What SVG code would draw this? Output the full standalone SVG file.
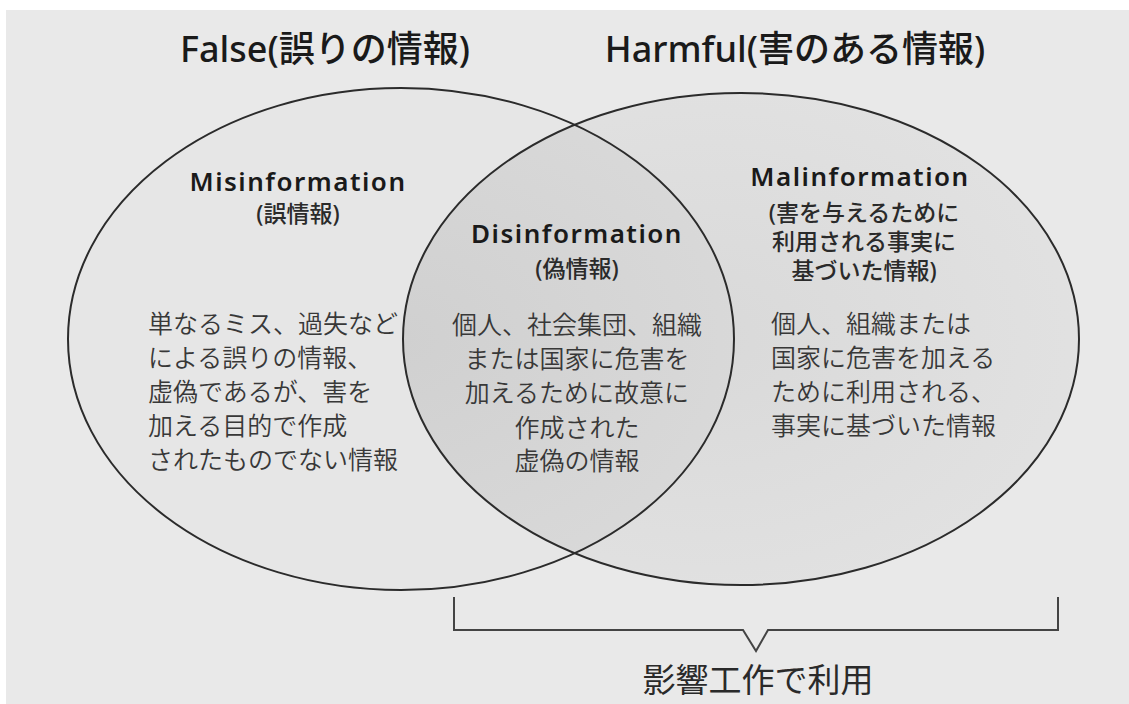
<svg xmlns="http://www.w3.org/2000/svg" width="1129" height="704" viewBox="0 0 1129 704">
  <style>
    .title { font-family: "Noto Sans", "Noto Sans CJK JP", sans-serif; font-size: 36px; font-weight: 500; fill: #1a1a1a; text-anchor: middle; }
    .head { font-family: "Noto Sans", "Noto Sans CJK JP", sans-serif; font-size: 26px; font-weight: 600; fill: #1a1a1a; text-anchor: middle; letter-spacing: 1.5px; }
    .sub { font-family: "Noto Sans", "Noto Sans CJK JP", sans-serif; font-size: 23px; font-weight: 500; fill: #2a2a2a; text-anchor: middle; }
    .body { font-family: "Noto Sans CJK JP", sans-serif; font-size: 25px; font-weight: 350; fill: #383838; }
    .mid { text-anchor: middle; }
    .outline { fill: none; stroke: #2b2b2b; stroke-width: 2; }
    .bracket { fill: none; stroke: #444; stroke-width: 2; stroke-linejoin: miter; }
    .foot { font-family: "Noto Sans CJK JP", sans-serif; font-size: 33px; font-weight: 400; fill: #2a2a2a; text-anchor: middle; }
  </style>
  <defs>
    <radialGradient id="gR" cx="0.45" cy="0.5" r="0.6">
      <stop offset="0" stop-color="#d9d9d9"/>
      <stop offset="1" stop-color="#e2e2e2"/>
    </radialGradient>
    <radialGradient id="gLens" cx="0.5" cy="0.5" r="0.6">
      <stop offset="0" stop-color="#d0d0d0"/>
      <stop offset="1" stop-color="#dadada"/>
    </radialGradient>
    <clipPath id="clipR">
      <ellipse cx="741" cy="339" rx="338" ry="246"/>
    </clipPath>
  </defs>

  <rect x="0" y="0" width="1129" height="704" fill="#ffffff"/>
  <rect x="6" y="10" width="1123" height="694" fill="#e9e9e9"/>

  <g id="node-false">
    <ellipse cx="401" cy="339" rx="333" ry="251" fill="#e6e6e6"/>
  </g>
  <g id="node-harmful">
    <ellipse cx="741" cy="339" rx="338" ry="246" fill="url(#gR)"/>
  </g>
  <g id="node-overlap">
    <ellipse cx="401" cy="339" rx="333" ry="251" fill="url(#gLens)" clip-path="url(#clipR)"/>
  </g>
  <g id="outlines">
    <ellipse class="outline" cx="401" cy="339" rx="333" ry="251"/>
    <ellipse class="outline" cx="741" cy="339" rx="338" ry="246"/>
  </g>

  <g id="title-false">
    <text class="title" x="325" y="62">False(誤りの情報)</text>
  </g>
  <g id="title-harmful">
    <text class="title" x="795" y="62">Harmful(害のある情報)</text>
  </g>

  <g id="misinformation">
    <text class="head" x="298" y="191">Misinformation</text>
    <text class="sub" x="298" y="222">(誤情報)</text>
    <text class="body" x="148" y="333">単なるミス、過失など</text>
    <text class="body" x="148" y="367">による誤りの情報、</text>
    <text class="body" x="148" y="401">虚偽であるが、害を</text>
    <text class="body" x="148" y="435">加える目的で作成</text>
    <text class="body" x="148" y="469">されたものでない情報</text>
  </g>

  <g id="disinformation">
    <text class="head" x="577" y="243">Disinformation</text>
    <text class="sub" x="577" y="277">(偽情報)</text>
    <text class="body mid" x="577" y="334">個人、社会集団、組織</text>
    <text class="body mid" x="577" y="368">または国家に危害を</text>
    <text class="body mid" x="577" y="402">加えるために故意に</text>
    <text class="body mid" x="577" y="437">作成された</text>
    <text class="body mid" x="577" y="470">虚偽の情報</text>
  </g>

  <g id="malinformation">
    <text class="head" x="860" y="186">Malinformation</text>
    <text class="sub" x="864" y="221">(害を与えるために</text>
    <text class="sub" x="864" y="250">利用される事実に</text>
    <text class="sub" x="864" y="279">基づいた情報)</text>
    <text class="body" x="771" y="333">個人、組織または</text>
    <text class="body" x="771" y="367">国家に危害を加える</text>
    <text class="body" x="771" y="401">ために利用される、</text>
    <text class="body" x="771" y="435">事実に基づいた情報</text>
  </g>

  <g id="connectors">
    <path class="bracket" d="M454 597 V630 H743 L756 651 L768 630 H1058 V597"/>
  </g>

  <g id="influence-ops">
    <text class="foot" x="758" y="692">影響工作で利用</text>
  </g>
</svg>
